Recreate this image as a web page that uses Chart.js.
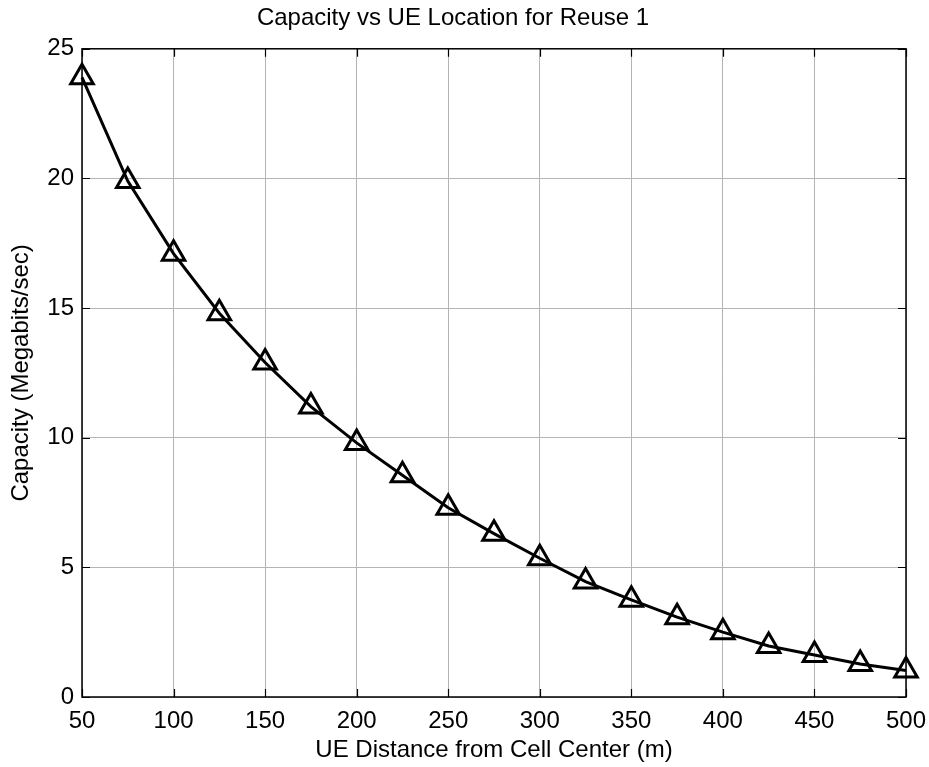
<!DOCTYPE html>
<html>
<head>
<meta charset="utf-8">
<script src="https://cdn.jsdelivr.net/npm/chart.js@4.4.0/dist/chart.umd.min.js"></script>
<style>
  html, body { margin: 0; padding: 0; background: #fff; }
  #wrap { width: 929px; height: 767px; }
</style>
</head>
<body>
<div id="wrap"><canvas id="capChart" width="929" height="767"></canvas></div>
<script>
// UE distance from cell center (m)
const distances = [50, 75, 100, 125, 150, 175, 200, 225, 250, 275, 300, 325, 350, 375, 400, 425, 450, 475, 500];
// Capacity in Megabits/sec
const capacity = [23.9, 19.9, 17.1, 14.8, 12.9, 11.2, 9.8, 8.55, 7.3, 6.3, 5.35, 4.45, 3.75, 3.08, 2.5, 1.97, 1.62, 1.27, 1.02];
const xTicks = [50, 100, 150, 200, 250, 300, 350, 400, 450, 500];
const yTicks = [0, 5, 10, 15, 20, 25];

const points = distances.map((d, i) => ({ x: d, y: capacity[i] }));
const fontFamily = '"Liberation Sans", Arial, sans-serif';

// draws the box round the plot and the inward tick marks (matlab style)
const boxPlugin = {
  id: 'boxPlugin',
  afterDraw(chart) {
    const { ctx, chartArea, scales } = chart;
    const { left, right, top, bottom } = chartArea;
    const tl = 8;
    ctx.save();
    ctx.strokeStyle = '#000';
    ctx.lineWidth = 1.5;
    ctx.strokeRect(left, top, right - left, bottom - top);
    ctx.lineWidth = 1.2;
    ctx.beginPath();
    xTicks.forEach((t) => {
      const x = Math.round(scales.x.getPixelForValue(t)) + 0.5;
      ctx.moveTo(x, bottom); ctx.lineTo(x, bottom - tl);
      ctx.moveTo(x, top); ctx.lineTo(x, top + tl);
    });
    yTicks.forEach((t) => {
      const y = Math.round(scales.y.getPixelForValue(t)) + 0.5;
      ctx.moveTo(left, y); ctx.lineTo(left + tl, y);
      ctx.moveTo(right, y); ctx.lineTo(right - tl, y);
    });
    ctx.stroke();
    ctx.restore();
  }
};

const ctx = document.getElementById('capChart').getContext('2d');
new Chart(ctx, {
  type: 'line',
  data: {
    datasets: [
      {
        data: points,
        borderColor: '#000',
        borderWidth: 3,
        pointStyle: 'triangle',
        pointRadius: 13,
        pointBorderWidth: 3,
        pointBorderColor: '#000',
        pointBackgroundColor: 'rgba(0,0,0,0)',
        tension: 0,
        fill: false,
        clip: false,
      },
    ],
  },
  options: {
    responsive: false,
    animation: false,
    layout: { padding: { left: 0, right: 23, top: 0, bottom: 0 } },
    plugins: {
      legend: { display: false },
      tooltip: { enabled: false },
      title: {
        display: true,
        text: 'Capacity vs UE Location for Reuse 1',
        color: '#000',
        font: { family: fontFamily, size: 24, weight: 'normal' },
        padding: { top: 4, bottom: 16 },
      },
    },
    scales: {
      x: {
        type: 'linear',
        min: 50,
        max: 500,
        afterBuildTicks: (scale) => { scale.ticks = xTicks.map((v) => ({ value: v })); },
        afterFit: (scale) => {
          scale.height = 70;
          scale.paddingLeft = 0;
          scale.paddingRight = 0;
        },
        ticks: {
          color: '#000',
          padding: 10,
          maxRotation: 0,
          font: { family: fontFamily, size: 24 },
        },
        grid: { color: '#b4b4b4', lineWidth: 1, drawTicks: false },
        border: { display: false },
        title: {
          display: true,
          text: 'UE Distance from Cell Center (m)',
          color: '#000',
          font: { family: fontFamily, size: 24 },
          padding: { top: 0, bottom: 2 },
        },
      },
      y: {
        min: 0,
        max: 25,
        afterBuildTicks: (scale) => { scale.ticks = yTicks.map((v) => ({ value: v })); },
        afterFit: (scale) => {
          scale.width = 82;
          scale.paddingTop = 0;
          scale.paddingBottom = 0;
        },
        ticks: {
          color: '#000',
          padding: 8,
          font: { family: fontFamily, size: 24 },
        },
        grid: { color: '#b4b4b4', lineWidth: 1, drawTicks: false },
        border: { display: false },
        title: {
          display: true,
          text: 'Capacity (Megabits/sec)',
          color: '#000',
          font: { family: fontFamily, size: 24 },
          padding: { top: 7, bottom: 0 },
        },
      },
    },
  },
  plugins: [boxPlugin],
});
</script>
</body>
</html>
